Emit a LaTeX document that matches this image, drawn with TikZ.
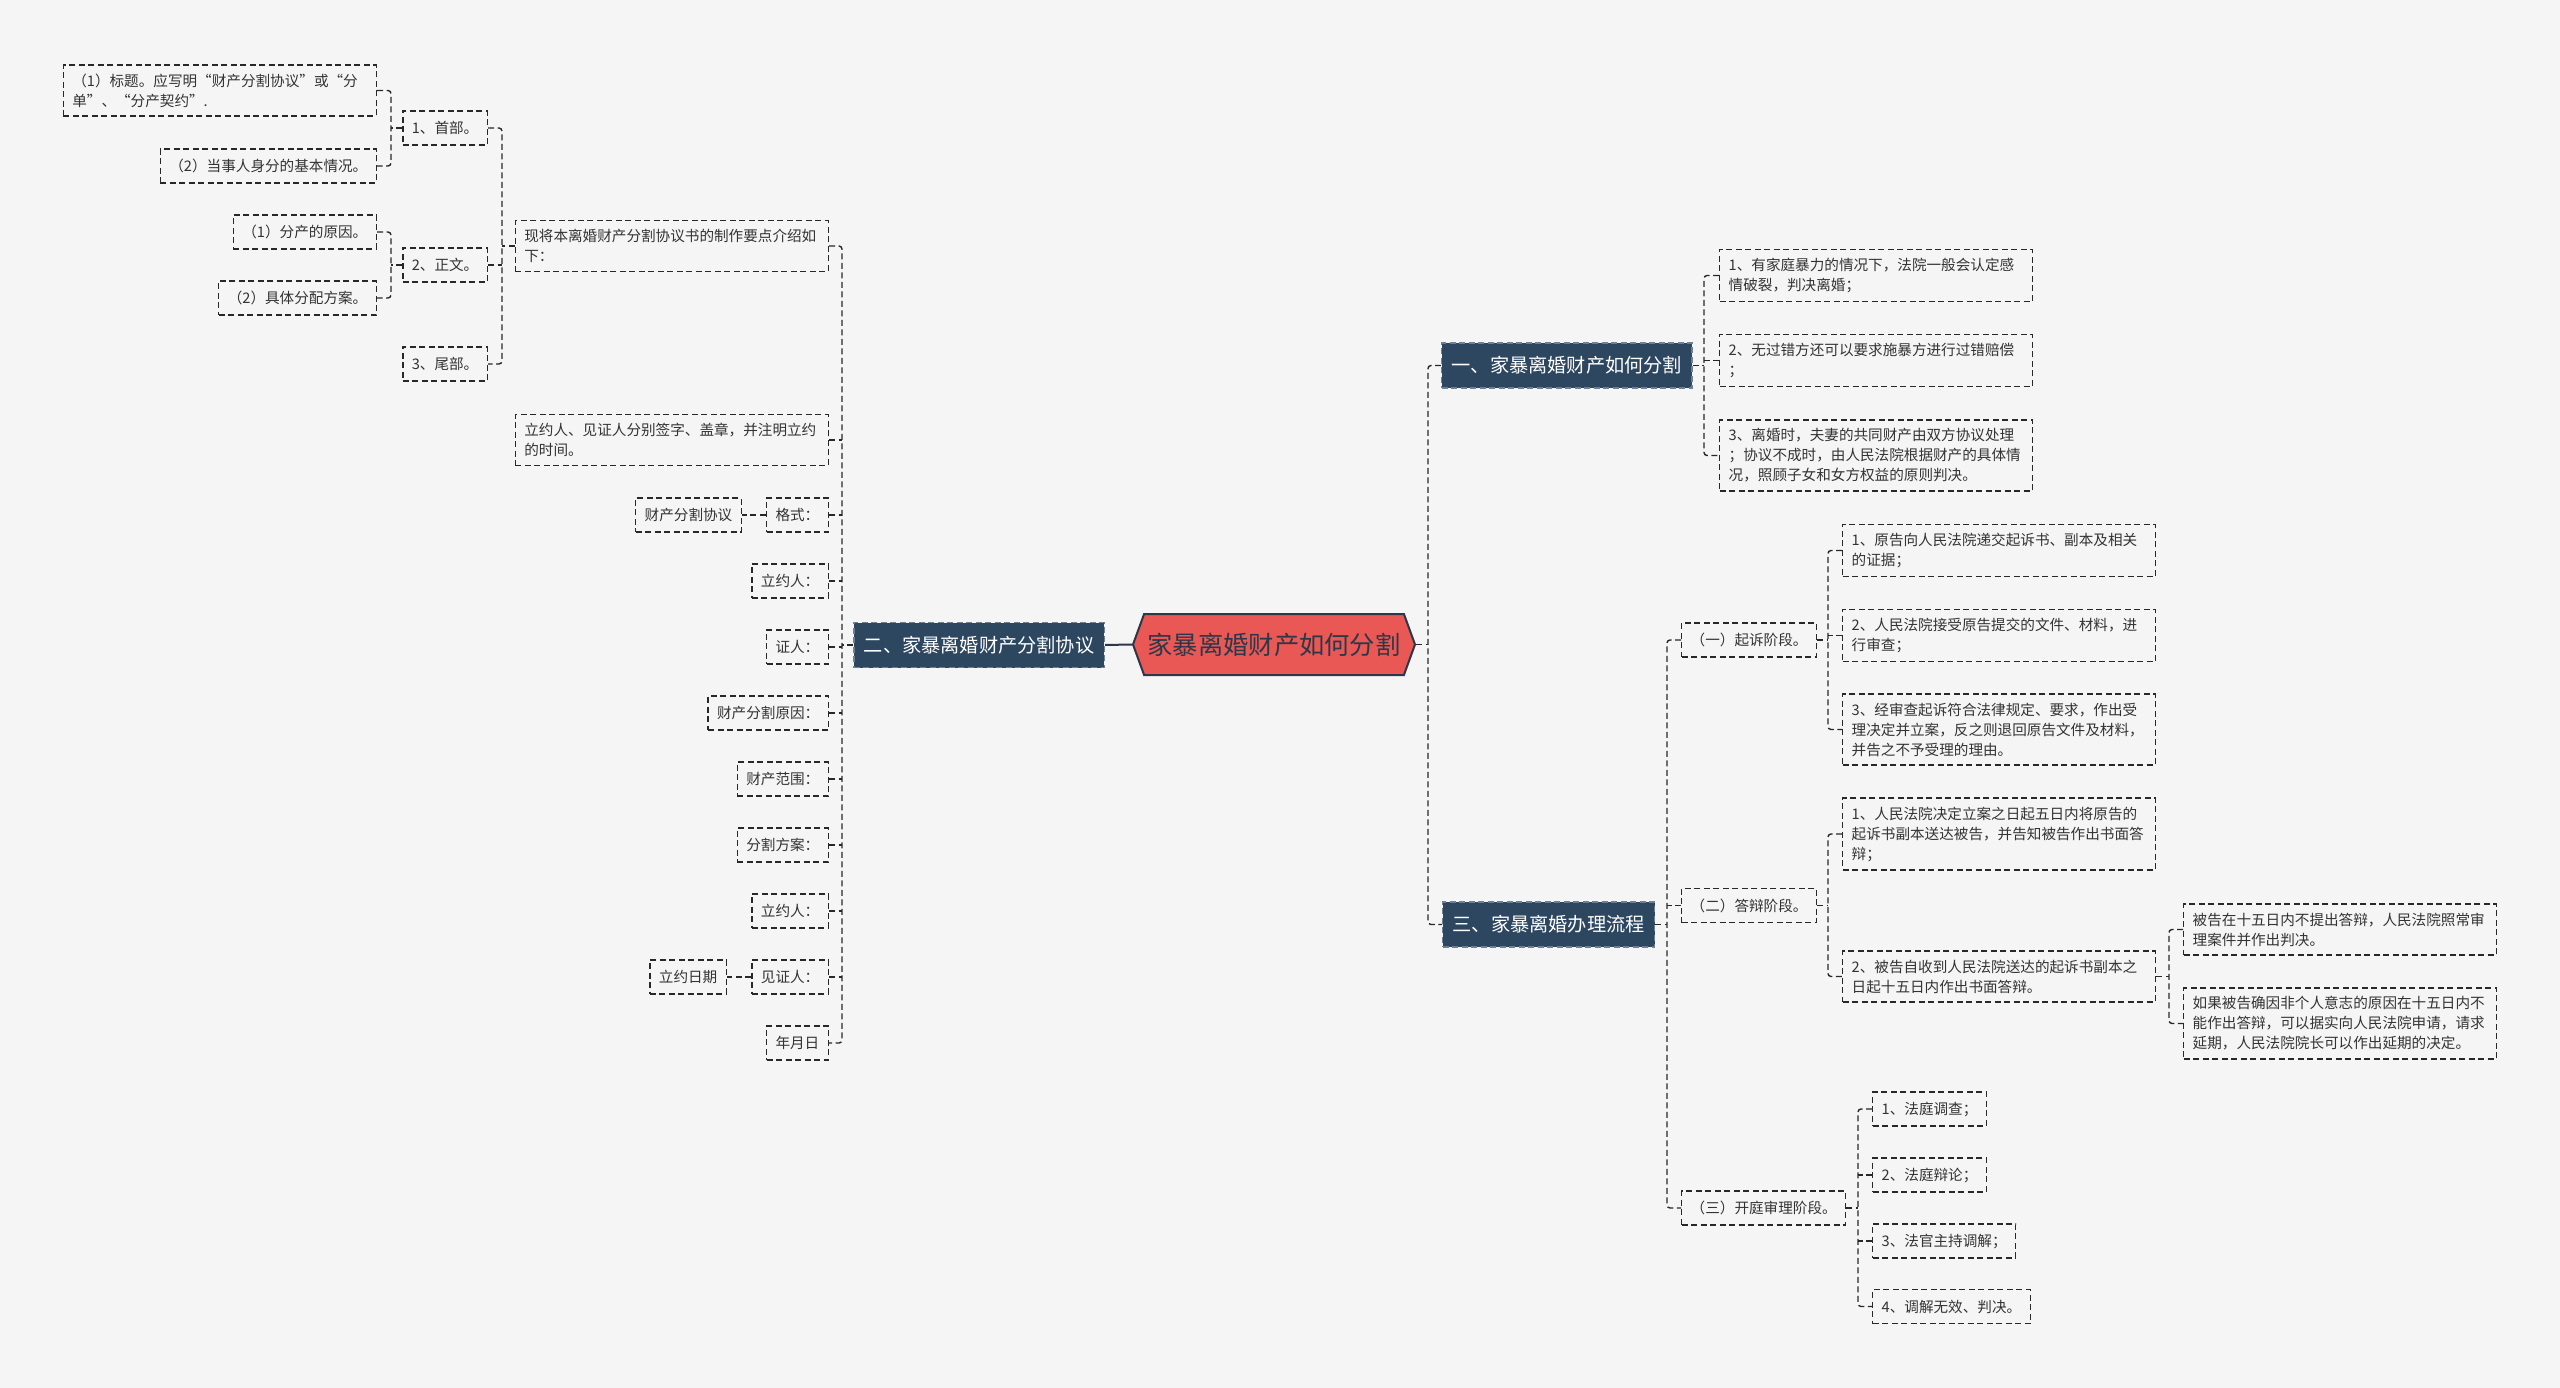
\documentclass[tikz,border=0pt]{standalone}
\usepackage{fontspec}
\setmainfont{Noto Sans CJK SC}
\usetikzlibrary{positioning,calc,shapes.symbols}
\definecolor{PageGray}{RGB}{245,245,245}
\definecolor{RootRed}{RGB}{234,88,86}
\definecolor{RootEdge}{RGB}{44,55,72}
\definecolor{TopicBlue}{RGB}{46,71,96}
\definecolor{TopicEdge}{RGB}{110,128,148}
\definecolor{LineGray}{RGB}{40,40,40}
\definecolor{TextGray}{RGB}{51,51,51}

\begin{document}
\begin{tikzpicture}[x=1pt, y=-1pt,
  every node/.style={font=\fontsize{14.6}{20}\selectfont, text=TextGray},
  leaf/.style={draw=LineGray, dash pattern=on 6pt off 3.5pt, line width=1.4pt, inner xsep=9pt, inner ysep=8.5pt, minimum height=34pt},
  wide/.style={leaf, text width=295pt, align=left},
  topic/.style={fill=TopicBlue, draw=TopicEdge, dash pattern=on 6pt off 3.5pt, line width=1.4pt, text=white, font=\fontsize{19.2}{24}\selectfont, inner xsep=10pt, minimum height=45pt},
  link/.style={draw=LineGray, line width=1.4pt, dash pattern=on 6pt off 3.5pt, rounded corners=3pt}]

\fill[PageGray] (0,0) rectangle (2560,1388);

% centre
\node[signal, signal to=east and west, signal pointer angle=140, fill=RootRed, draw=RootEdge, line width=2pt, inner xsep=0pt, minimum width=282pt, minimum height=61pt, font=\fontsize{25.3}{30}\selectfont, text=RootEdge] (root) at (1274,644.5) {家暴离婚财产如何分割};

% main topics
\node[topic, anchor=east] (l2) at (1105,645) {二、家暴离婚财产分割协议};
\node[topic, anchor=west] (l1) at (1441,365.5) {一、家暴离婚财产如何分割};
\node[topic, anchor=west] (l3) at (1442,924.5) {三、家暴离婚办理流程};

% left branch
\node[wide, anchor=east] (p0) at (829,246) {现将本离婚财产分割协议书的制作要点介绍如\\下：};
\node[wide, anchor=east] (p1) at (829,440) {立约人、见证人分别签字、盖章，并注明立约\\的时间。};
\node[leaf, anchor=east] (p2) at (829,515) {格式：};
\node[leaf, anchor=east] (p3) at (829,581) {立约人：};
\node[leaf, anchor=east] (p4) at (829,647) {证人：};
\node[leaf, anchor=east] (p5) at (829,713) {财产分割原因：};
\node[leaf, anchor=east] (p6) at (829,779) {财产范围：};
\node[leaf, anchor=east] (p7) at (829,845) {分割方案：};
\node[leaf, anchor=east] (p8) at (829,911) {立约人：};
\node[leaf, anchor=east] (p9) at (829,977) {见证人：};
\node[leaf, anchor=east] (p10) at (829,1043) {年月日};
\node[leaf, anchor=east] (f1) at (742,515) {财产分割协议};
\node[leaf, anchor=east] (f2) at (727,977) {立约日期};

\node[leaf, anchor=east] (s1) at (488,128) {1、首部。};
\node[leaf, anchor=east] (s2) at (488,265) {2、正文。};
\node[leaf, anchor=east] (s3) at (488,364) {3、尾部。};
\node[wide, anchor=east] (s11) at (377,90.5) {（1）标题。应写明“财产分割协议”或“分\\单”、“分产契约”.};
\node[leaf, anchor=east] (s12) at (377,166) {（2）当事人身分的基本情况。};
\node[leaf, anchor=east] (s21) at (377,232) {（1）分产的原因。};
\node[leaf, anchor=east] (s22) at (377,298) {（2）具体分配方案。};

% right branch, part one
\node[wide, anchor=west] (r1) at (1719,275.5) {1、有家庭暴力的情况下，法院一般会认定感\\情破裂，判决离婚；};
\node[wide, anchor=west] (r2) at (1719,360.5) {2、无过错方还可以要求施暴方进行过错赔偿\\；};
\node[wide, anchor=west] (r3) at (1719,455.5) {3、离婚时，夫妻的共同财产由双方协议处理\\；协议不成时，由人民法院根据财产的具体情\\况，照顾子女和女方权益的原则判决。};

% right branch, part three
\node[leaf, anchor=west] (q1) at (1681,640) {（一）起诉阶段。};
\node[leaf, anchor=west] (q2) at (1681,905.5) {（二）答辩阶段。};
\node[leaf, anchor=west] (q3) at (1681,1208) {（三）开庭审理阶段。};

\node[wide, anchor=west] (a1) at (1842,550.5) {1、原告向人民法院递交起诉书、副本及相关\\的证据；};
\node[wide, anchor=west] (a2) at (1842,635.5) {2、人民法院接受原告提交的文件、材料，进\\行审查；};
\node[wide, anchor=west] (a3) at (1842,729.5) {3、经审查起诉符合法律规定、要求，作出受\\理决定并立案，反之则退回原告文件及材料，\\并告之不予受理的理由。};

\node[wide, anchor=west] (b1) at (1842,834) {1、人民法院决定立案之日起五日内将原告的\\起诉书副本送达被告，并告知被告作出书面答\\辩；};
\node[wide, anchor=west] (b2) at (1842,976.5) {2、被告自收到人民法院送达的起诉书副本之\\日起十五日内作出书面答辩。};
\node[wide, anchor=west] (d1) at (2183,929.5) {被告在十五日内不提出答辩，人民法院照常审\\理案件并作出判决。};
\node[wide, anchor=west] (d2) at (2183,1023.5) {如果被告确因非个人意志的原因在十五日内不\\能作出答辩，可以据实向人民法院申请，请求\\延期，人民法院院长可以作出延期的决定。};

\node[leaf, anchor=west] (e1) at (1872,1109) {1、法庭调查；};
\node[leaf, anchor=west] (e2) at (1872,1175) {2、法庭辩论；};
\node[leaf, anchor=west] (e3) at (1872,1241) {3、法官主持调解；};
\node[leaf, anchor=west] (e4) at (1872,1306.5) {4、调解无效、判决。};

% trunks
\coordinate (k1) at (1428,0);
\coordinate (k2) at (842,0);
\coordinate (k3) at (502,0);
\coordinate (k4) at (391,0);
\coordinate (k5) at (1704,0);
\coordinate (k6) at (1667,0);
\coordinate (k7) at (1828,0);
\coordinate (k8) at (2169,0);
\coordinate (k9) at (1858,0);

% connectors
\draw[RootEdge, line width=2pt] (root.west) -- (l2.east);
\draw[link] (root.east) -- (root.east -| k1);
\draw[link] (l1.west) -| (k1 |- l3.west) -- (l3.west);

\draw[link] (l2.west) -- (l2.west -| k2);
\draw[link] (p0.east) -| (k2 |- p10.east) -- (p10.east);
\foreach \n in {p1,p2,p3,p4,p5,p6,p7,p8,p9}
  \draw[link] (\n.east) -- (\n.east -| k2);
\draw[link] (p2.west) -- (f1.east);
\draw[link] (p9.west) -- (f2.east);

\draw[link] (p0.west) -- (p0.west -| k3);
\draw[link] (s1.east) -| (k3 |- s3.east) -- (s3.east);
\draw[link] (s2.east) -- (s2.east -| k3);
\draw[link] (s1.west) -- (s1.west -| k4);
\draw[link] (s11.east) -| (k4 |- s12.east) -- (s12.east);
\draw[link] (s2.west) -- (s2.west -| k4);
\draw[link] (s21.east) -| (k4 |- s22.east) -- (s22.east);

\draw[link] (l1.east) -- (l1.east -| k5);
\draw[link] (r1.west) -| (k5 |- r3.west) -- (r3.west);
\draw[link] (r2.west) -- (r2.west -| k5);

\draw[link] (l3.east) -- (l3.east -| k6);
\draw[link] (q1.west) -| (k6 |- q3.west) -- (q3.west);
\draw[link] (q2.west) -- (q2.west -| k6);

\draw[link] (q1.east) -- (q1.east -| k7);
\draw[link] (a1.west) -| (k7 |- a3.west) -- (a3.west);
\draw[link] (a2.west) -- (a2.west -| k7);

\draw[link] (q2.east) -- (q2.east -| k7);
\draw[link] (b1.west) -| (k7 |- b2.west) -- (b2.west);
\draw[link] (b2.east) -- (b2.east -| k8);
\draw[link] (d1.west) -| (k8 |- d2.west) -- (d2.west);

\draw[link] (q3.east) -- (q3.east -| k9);
\draw[link] (e1.west) -| (k9 |- e4.west) -- (e4.west);
\draw[link] (e2.west) -- (e2.west -| k9);
\draw[link] (e3.west) -- (e3.west -| k9);
\end{tikzpicture}
\end{document}
